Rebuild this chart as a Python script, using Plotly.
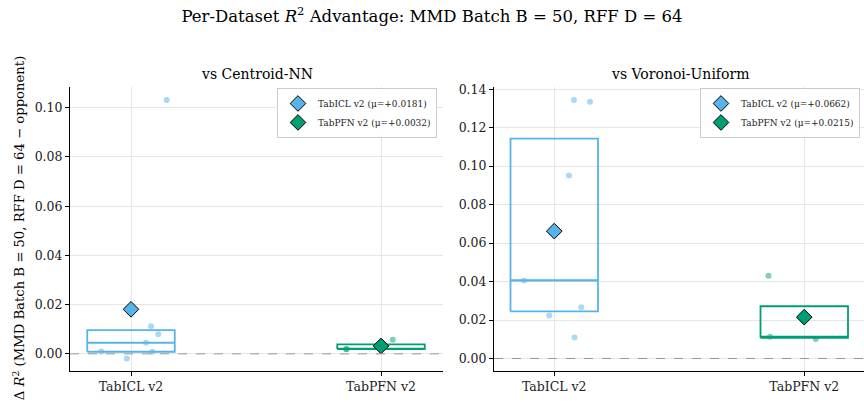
import numpy as np
import plotly.graph_objects as go

# Per-dataset R^2 advantage of MMD (B=50, RFF D=64) over each opponent
models = ["TabICL v2", "TabPFN v2"]
colors = {"TabICL v2": "#56B4E9", "TabPFN v2": "#009E73"}
light = {"TabICL v2": "rgba(86,180,233,0.5)", "TabPFN v2": "rgba(0,158,115,0.5)"}

centroid_icl = [0.1032, 0.0112, 0.0080, 0.0045, 0.0009, 0.0008, -0.0019]
centroid_pfn = [0.0019, 0.0020, 0.0057]
voronoi_icl = [0.1344, 0.1335, 0.0951, 0.0406, 0.0266, 0.0223, 0.0109]
voronoi_pfn = [0.0430, 0.0113, 0.0102]

# horizontal jitter used for the per-dataset dots
jitter_icl_centroid = [0.143, 0.080, 0.109, 0.060, -0.119, 0.085, -0.017]
jitter_pfn_centroid = [-0.140, -0.137, 0.047]
jitter_icl_voronoi = [0.079, 0.143, 0.059, -0.121, 0.108, -0.020, 0.081]
jitter_pfn_voronoi = [-0.143, -0.137, 0.046]

panels = [
    ("vs Centroid-NN", {"TabICL v2": (centroid_icl, jitter_icl_centroid),
                        "TabPFN v2": (centroid_pfn, jitter_pfn_centroid)}),
    ("vs Voronoi-Uniform", {"TabICL v2": (voronoi_icl, jitter_icl_voronoi),
                            "TabPFN v2": (voronoi_pfn, jitter_pfn_voronoi)}),
]

W, H = 864, 407
SERIF = "DejaVu Serif"
BOX_W = 0.35

fig = go.Figure()

x_domains = [[70 / W, 443 / W], [494 / W, 1.0]]
x_ranges = [[-0.244, 1.248], [-0.241, 1.239]]
y_dom = [1 - 371 / H, 1 - 83 / H]
legend_names = ["legend", "legend2"]
legend_x = [437 / W, 860 / W]

for k, (title, data) in enumerate(panels):
    xa = "x" if k == 0 else "x2"
    ya = "y" if k == 0 else "y2"
    all_vals = [0.0]
    for i, m in enumerate(models):
        vals, jit = data[m]
        vals = np.array(vals)
        all_vals += list(vals)
        # individual datasets
        fig.add_trace(go.Scatter(
            x=i + np.array(jit), y=vals, mode="markers",
            marker=dict(color=light[m], size=6, line=dict(width=0)),
            showlegend=False, hoverinfo="skip", xaxis=xa, yaxis=ya))
        # interquartile box and median
        q1, med, q3 = np.percentile(vals, [25, 50, 75])
        x0, x1 = i - BOX_W / 2, i + BOX_W / 2
        fig.add_trace(go.Scatter(
            x=[x0, x1, x1, x0, x0], y=[q1, q1, q3, q3, q1], mode="lines",
            line=dict(color=colors[m], width=1.8),
            showlegend=False, hoverinfo="skip", xaxis=xa, yaxis=ya))
        fig.add_trace(go.Scatter(
            x=[x0, x1], y=[med, med], mode="lines",
            line=dict(color=colors[m], width=2.2),
            showlegend=False, hoverinfo="skip", xaxis=xa, yaxis=ya))
    # means as diamonds (drawn last so they sit on top)
    for i, m in enumerate(models):
        mu = float(np.mean(data[m][0]))
        fig.add_trace(go.Scatter(
            x=[i], y=[mu], mode="markers",
            marker=dict(symbol="diamond", color=colors[m], size=12,
                        line=dict(color="black", width=1)),
            name=f"{m} (\u03bc={mu:+.4f})",
            legend=legend_names[k], xaxis=xa, yaxis=ya))
    # zero reference line
    fig.add_trace(go.Scatter(
        x=x_ranges[k], y=[0, 0], mode="lines",
        line=dict(color="#999999", width=1, dash="dash"),
        showlegend=False, hoverinfo="skip", xaxis=xa, yaxis=ya))

    lo, hi = min(all_vals), max(all_vals)
    pad = 0.05 * (hi - lo)
    axis_common = dict(
        showline=True, linecolor="black", linewidth=1,
        ticks="outside", ticklen=4, tickcolor="black",
        showgrid=True, gridcolor="#e6e6e6", gridwidth=1,
        zeroline=False, tickfont=dict(family=SERIF, size=12.5, color="#222"),
    )
    xkey = "xaxis" if k == 0 else "xaxis2"
    ykey = "yaxis" if k == 0 else "yaxis2"
    fig.update_layout({
        xkey: dict(axis_common, domain=x_domains[k], range=x_ranges[k],
                   tickvals=[0, 1], ticktext=models, anchor=ya),
        ykey: dict(axis_common, domain=y_dom, range=[lo - pad, hi + pad],
                   dtick=0.02, tickformat=".2f", anchor=xa),
    })
    fig.add_annotation(
        text=title, x=(sum(x_domains[k]) / 2) if k == 0 else 680 / W,
        y=1 - 70 / H, xref="paper", yref="paper", xanchor="center",
        yanchor="middle", showarrow=False,
        font=dict(family=SERIF, size=14, color="black"))

legend_style = dict(
    yanchor="top", xanchor="right", y=1 - 84 / H,
    bgcolor="rgba(255,255,255,0.9)", bordercolor="#cccccc", borderwidth=1,
    font=dict(family=SERIF, size=9, color="#222"), tracegroupgap=0,
    itemwidth=30,
)

fig.update_layout(
    width=W, height=H, margin=dict(l=0, r=0, t=0, b=0),
    plot_bgcolor="white", paper_bgcolor="white",
    title=dict(text="Per-Dataset <i>R</i><sup>2</sup> Advantage: MMD Batch B = 50, RFF D = 64",
               x=0.5, xanchor="center", y=1 - 16 / H, yanchor="middle",
               font=dict(family=SERIF, size=16.5, color="black")),
    legend=dict(legend_style, x=legend_x[0]),
    legend2=dict(legend_style, x=legend_x[1]),
)
fig.add_annotation(
    text="\u0394 <i>R</i><sup>2</sup> (MMD Batch B = 50, RFF D = 64 \u2212 opponent)",
    x=19 / W, y=1 - 226 / H, xref="paper", yref="paper", textangle=-90,
    xanchor="center", yanchor="middle",
    showarrow=False, font=dict(family=SERIF, size=13.2, color="black"))

fig.write_html("out.html")
